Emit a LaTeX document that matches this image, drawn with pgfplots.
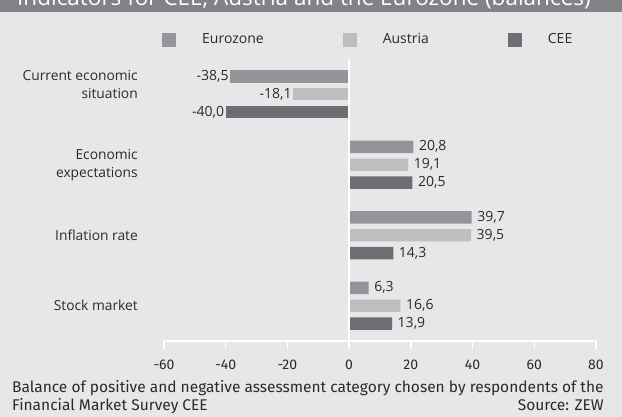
\documentclass[border=0pt]{standalone}
\usepackage{pgfplots}
\pgfplotsset{compat=1.18}
\usepackage{fontspec}
\setmainfont{Open Sans}
\newfontfamily\fira{Fira Sans}
\definecolor{bg}{HTML}{E6E7E8}
\definecolor{titlebar}{HTML}{808285}
\definecolor{ez}{HTML}{939598}
\definecolor{at}{HTML}{BCBEC0}
\definecolor{cee}{HTML}{6D6E71}
\definecolor{txt}{HTML}{2B2A29}
\pgfplotsset{
  sq legend/.style={legend image code/.code={\fill[##1,draw=none] (0pt,-7pt) rectangle (14pt,7pt); \path[draw=none,fill=none] (0pt,-0.1pt) rectangle (40pt,0.1pt);}},
  neglab/.style={nodes near coords, point meta=explicit symbolic,
    every node near coord/.append style={anchor=east, inner xsep=1.5pt, font=\fontsize{14}{16}\selectfont, text=txt}},
  poslab/.style={nodes near coords, point meta=explicit symbolic,
    every node near coord/.append style={anchor=west, inner xsep=5.5pt, font=\fontsize{14}{16}\selectfont, text=txt}},
}
\begin{document}
\begin{tikzpicture}[x=1pt,y=1pt]
\useasboundingbox (0,0) rectangle (622,417);
\fill[bg] (0,0) rectangle (622,417);
\fill[titlebar] (0,405) rectangle (622,417);
\begin{scope}
\clip (0,405) rectangle (622,417);
\node[anchor=base west, inner sep=0pt, text=white, font=\fontsize{22.5}{26}\selectfont] at (17,411.5) {Indicators for CEE, Austria and the Eurozone (balances)};
\end{scope}
\begin{axis}[
  at={(164pt,76pt)}, anchor=south west,
  scale only axis, width=432pt, height=282pt,
  xmin=-60, xmax=80, ymin=-0.5, ymax=3.5, y dir=reverse,
  enlargelimits=false, clip=false,
  xbar, bar width=0.177,
  axis x line*=bottom, axis y line*=left,
  y axis line style={draw=none},
  x axis line style={white, line width=1.3pt},
  xtick={-60,-40,-20,0,20,40,60,80},
  xticklabels={-60,-40,-20,0,20,40,60,80},
  xtick align=outside, major tick length=8pt,
  xtick style={white, line width=1.3pt},
  xticklabel style={font=\fira\fontsize{14}{16}\selectfont, text=txt, yshift=-7pt},
  ytick={-0.14,1,2,3},
  yticklabels={{Current economic\\situation},{Economic\\expectations},{Inflation rate},{Stock market}},
  yticklabel style={align=right, font=\fontsize{13.8}{18}\selectfont, text=txt, inner sep=0pt, xshift=-18pt},
  ytick style={draw=none},
  legend style={at={(axis description cs:0,1)}, anchor=west, xshift=-2pt, yshift=19.5pt,
    draw=none, fill=none, inner sep=0pt, nodes={inner xsep=0pt},
    font=\fontsize{14}{16}\selectfont, text=txt,
    /tikz/every even column/.append style={column sep=79pt}},
  legend columns=-1, legend cell align=left,
]
\addplot[xbar, fill=ez, draw=none, bar shift=-0.255, sq legend, poslab] coordinates {(20.8,1) [20,8] (39.7,2) [39,7] (6.3,3) [6,3]};
\addlegendentry{Eurozone}
\addplot[xbar, fill=at, draw=none, bar shift=0, sq legend, poslab] coordinates {(19.1,1) [19,1] (39.5,2) [39,5] (16.6,3) [16,6]};
\addlegendentry{Austria}
\addplot[xbar, fill=cee, draw=none, bar shift=0.255, sq legend, poslab] coordinates {(20.5,1) [20,5] (14.3,2) [14,3] (13.9,3) [13,9]};
\addlegendentry{CEE}
\addplot[xbar, fill=ez, draw=none, bar shift=-0.255, neglab, forget plot] coordinates {(-38.5,0) [-38,5]};
\addplot[xbar, fill=at, draw=none, bar shift=0, neglab, forget plot] coordinates {(-18.1,0) [-18,1]};
\addplot[xbar, fill=cee, draw=none, bar shift=0.255, neglab, forget plot] coordinates {(-40.0,0) [-40,0]};
\draw[white, line width=1.3pt] (axis cs:0,-0.5) -- (axis cs:0,3.5);
\end{axis}
\node[anchor=base west, inner sep=0pt, font=\fira\fontsize{15.5}{18}\selectfont, text=txt] at (12,24) {Balance of positive and negative assessment category chosen by respondents of the};
\node[anchor=base west, inner sep=0pt, font=\fira\fontsize{15.5}{18}\selectfont, text=txt] at (12,6) {Financial Market Survey CEE};
\node[anchor=base east, inner sep=0pt, font=\fira\fontsize{15.5}{18}\selectfont, text=txt] at (604,6) {Source: ZEW};
\end{tikzpicture}
\end{document}
